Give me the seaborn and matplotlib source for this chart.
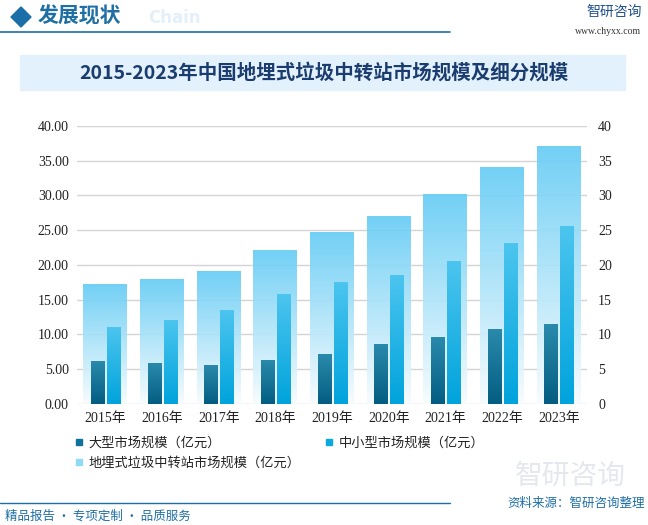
import numpy as np
import pandas as pd
import matplotlib.pyplot as plt
import seaborn as sns
from matplotlib.colors import LinearSegmentedColormap
from matplotlib.lines import Line2D
from matplotlib.patches import Rectangle, Polygon

# 数据
years = ['2015年', '2016年', '2017年', '2018年', '2019年', '2020年', '2021年', '2022年', '2023年']
total = [17.2, 17.9, 19.1, 22.1, 24.7, 27.0, 30.2, 34.0, 37.0]
large = [6.1, 5.8, 5.5, 6.25, 7.1, 8.55, 9.55, 10.7, 11.45]
small = [11.0, 12.0, 13.5, 15.8, 17.5, 18.5, 20.5, 23.1, 25.6]

lab_total = '地埋式垃圾中转站市场规模（亿元）'
lab_large = '大型市场规模（亿元）'
lab_small = '中小型市场规模（亿元）'

df_total = pd.DataFrame({'year': years, 'value': total})
df_sub = pd.DataFrame({'year': years, lab_large: large, lab_small: small}).melt(
    id_vars='year', var_name='type', value_name='value')

sns.set_style('white')
cjk = ['Noto Sans CJK SC', 'DejaVu Sans']
serif = ['Liberation Serif', 'Noto Sans CJK SC']
plt.rcParams['font.family'] = cjk

BLUE = '#1f6fa5'
fig = plt.figure(figsize=(6.48, 5.25), dpi=100)
ax = fig.add_axes([0.119, 0.2305, 0.787, 0.5295])

sns.barplot(data=df_total, x='year', y='value', color='#66ccf5', width=0.776, ax=ax, zorder=2)
n_total = len(ax.patches)
sns.barplot(data=df_sub, x='year', y='value', hue='type', hue_order=[lab_large, lab_small],
            palette=['#176f93', '#12ace2'], width=0.565, gap=0.18, ax=ax, zorder=3, legend=False)


def grad_fill(patch, c_top, c_bot, z, alpha=1.0):
    x, y = patch.get_x(), patch.get_y()
    w, h = patch.get_width(), patch.get_height()
    cmap = LinearSegmentedColormap.from_list('g', [c_bot, c_top])
    ax.imshow(np.linspace(0, 1, 256).reshape(-1, 1), cmap=cmap, origin='lower', alpha=alpha,
              extent=[x, x + w, y, y + h], aspect='auto', zorder=z, interpolation='bilinear')
    patch.set_visible(False)


patches = list(ax.patches)
for i, p in enumerate(patches):
    if p.get_height() <= 0:
        continue
    if i < n_total:
        grad_fill(p, '#66ccf5', '#f7fcfe', 2, alpha=0.92)
    elif i < n_total + len(years):
        grad_fill(p, '#2a8aac', '#035d82', 3)
    else:
        grad_fill(p, '#4cc5ef', '#00a3dc', 3)

ax.set_xlim(-0.5, len(years) - 0.5)
ax.set_ylim(0, 40)
ax.set_yticks(np.arange(0, 41, 5))
ax.set_yticklabels([f'{v:.2f}' for v in np.arange(0, 41, 5)], family=serif, fontsize=10, color='#222222')
ax.set_xticks(range(len(years)))
ax.set_xticklabels(years, family=serif, fontsize=10, color='#222222')
ax.set_xlabel('')
ax.set_ylabel('')
ax.grid(axis='y', color='#d4d4d4', linewidth=1, zorder=0)
ax.set_axisbelow(True)
ax.tick_params(length=0, pad=6)
for s in ax.spines.values():
    s.set_visible(False)

ax2 = ax.twinx()
ax2.set_ylim(0, 40)
ax2.set_yticks(np.arange(0, 41, 5))
ax2.set_yticklabels([str(v) for v in range(0, 41, 5)], family=serif, fontsize=10, color='#222222')
ax2.tick_params(length=0, pad=8)
for s in ax2.spines.values():
    s.set_visible(False)

# 图例
handles = [
    Line2D([], [], marker='s', linestyle='none', markersize=5, color='#11719a'),
    Line2D([], [], marker='s', linestyle='none', markersize=5, color='#8fdaf7'),
    Line2D([], [], marker='s', linestyle='none', markersize=5, color='#0aa8df'),
]
fig.legend(handles, [lab_large, lab_total, lab_small], ncol=2, loc='upper left',
           bbox_to_anchor=(0.108, 0.178), frameon=False, fontsize=9.5, handlelength=0.6,
           handletextpad=0.4, columnspacing=1.9, labelspacing=0.55, borderaxespad=0,
           labelcolor='#222222')

# 标题框
fig.patches.append(Rectangle((20 / 648, 1 - 90 / 525), 605 / 648, 35 / 525,
                             transform=fig.transFigure, color='#e2f1fb', zorder=0))
fig.text(0.5, 1 - 73 / 525, '2015-2023年中国地埋式垃圾中转站市场规模及细分规模',
         ha='center', va='center', fontsize=14, fontweight='bold', color='#1b3c6e')

# 页眉
fig.patches.append(Polygon([(11 / 648, 1 - 17 / 525), (21 / 648, 1 - 7 / 525),
                            (31 / 648, 1 - 17 / 525), (21 / 648, 1 - 27 / 525)],
                           closed=True, transform=fig.transFigure, color='#1a6fa8'))
fig.text(38 / 648, 1 - 16 / 525, '发展现状', ha='left', va='center', fontsize=15,
         fontweight='bold', color=BLUE)
fig.text(148 / 648, 1 - 18 / 525, 'Chain', ha='left', va='center', fontsize=12,
         fontweight='bold', color='#e3f0fa', family='DejaVu Sans')
fig.add_artist(Line2D([0, 450 / 648], [1 - 32 / 525, 1 - 32 / 525], color='#1a6fa8', linewidth=1.2))
fig.text(0.99, 1 - 12 / 525, '智研咨询', ha='right', va='center', fontsize=10, color='#1d4f8c')
fig.text(0.99, 1 - 32 / 525, 'www.chyxx.com', ha='right', va='center', fontsize=7,
         color='#333333', family='Liberation Serif')

# 页脚
fig.text(0.88, 1 - 476 / 525, '智研咨询', ha='center', va='center', fontsize=20, color='#e4e8ee', zorder=0)
fig.add_artist(Line2D([0, 450 / 648], [1 - 503 / 525, 1 - 503 / 525], color='#1a6fa8', linewidth=1))
fig.text(5 / 648, 1 - 516 / 525, '精品报告 · 专项定制 · 品质服务', ha='left', va='center',
         fontsize=9, color=BLUE)
fig.text(645 / 648, 1 - 503 / 525, '资料来源：智研咨询整理', ha='right', va='center',
         fontsize=9, color=BLUE)

fig.savefig('out.png', dpi=100)
